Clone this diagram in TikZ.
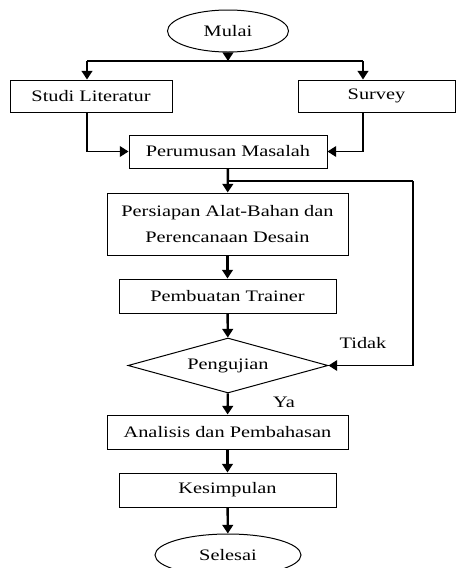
\documentclass[tikz,border=0pt]{standalone}
\usepackage{fontspec}
\setmainfont[FakeStretch=1.27]{Liberation Serif}
\usetikzlibrary{shapes.geometric,arrows.meta}

\begin{document}
\begin{tikzpicture}[x=0.75pt,y=-0.75pt,
    every node/.style={font=\fontsize{12pt}{19.5pt}\selectfont},
    kotak/.style={draw,line width=0.75pt,inner sep=0pt,align=center},
    oval/.style={draw,ellipse,line width=0.75pt,inner sep=0pt},
    arr/.style={-{Triangle[width=8pt,length=6.5pt]},line width=1.8pt},
    garis/.style={line width=1pt}]
    \clip (0,0) rectangle (456,568);
    \useasboundingbox (0,0) rectangle (456,568);
    % simpul-simpul
    \node[oval,minimum width=90.75pt,minimum height=31.5pt] (mulai) at (228,31) {Mulai};
    \node[kotak,minimum width=121.5pt,minimum height=24pt] (studi) at (91,96) {Studi Literatur};
    \node[kotak,minimum width=117.75pt,minimum height=24pt] (survey) at (376.5,96) {Survey};
    \node[kotak,minimum width=148.5pt,minimum height=24.75pt] (rumus) at (228,151.5) {Perumusan Masalah};
    \node[kotak,minimum width=180.75pt,minimum height=46.5pt] (siapan) at (227.5,224) {Persiapan Alat-Bahan dan\\Perencanaan Desain};
    \node[kotak,minimum width=162.75pt,minimum height=25.5pt] (buat) at (227.5,296) {Pembuatan Trainer};
    \node[draw,diamond,shape aspect=3.6,line width=0.75pt,inner sep=0pt,minimum width=150pt,minimum height=41.25pt] (uji) at (228,365.5) {Pengujian};
    \node[kotak,minimum width=180.75pt,minimum height=25.5pt] (analisis) at (227.5,432) {Analisis dan Pembahasan};
    \node[kotak,minimum width=162.75pt,minimum height=25.5pt] (simpul) at (227.5,490) {Kesimpulan};
    \node[oval,minimum width=109.5pt,minimum height=31.5pt] (selesai) at (228,555) {Selesai};
    \node (tidak) at (363,343) {Tidak};
    \node (ya) at (284,402) {Ya};
    % titik bantu
    \coordinate (cabang) at (228,61);
    \coordinate (kiri) at (87,61);
    \coordinate (kanan) at (363,61);
    \coordinate (balik) at (228,181);
    \coordinate (pojok) at (413,181);
    % panah
    \draw[arr] (mulai) -- (cabang);
    \draw[line width=1.5pt] (kiri) -- (kanan);
    \draw[arr] (kiri) -- (kiri |- studi.north);
    \draw[arr] (kanan) -- (kanan |- survey.north);
    \draw[arr,line width=1pt] (kiri |- studi.south) |- (rumus.west);
    \draw[arr,line width=1pt] (kanan |- survey.south) |- (rumus.east);
    \draw[arr] (rumus) -- (siapan);
    \draw[garis] (balik) -- (pojok);
    \draw[arr,line width=1pt] (pojok) |- (uji.east);
    \draw[arr] (siapan) -- (buat);
    \draw[arr] (buat) -- (uji);
    \draw[arr] (uji) -- (analisis);
    \draw[arr] (analisis) -- (simpul);
    \draw[arr] (simpul) -- (selesai);
\end{tikzpicture}
\end{document}
